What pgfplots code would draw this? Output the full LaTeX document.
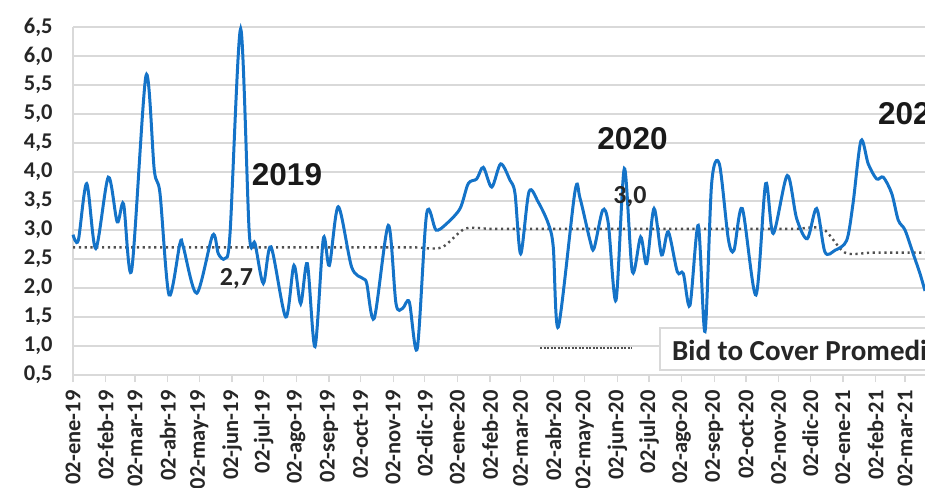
\documentclass[border=0pt]{standalone}
\usepackage{pgfplots}
\pgfplotsset{compat=1.18}
\usepackage{fontspec}
\setmainfont{Carlito}
\newfontfamily\arialfont{Liberation Sans}
\definecolor{bline}{RGB}{20,115,200}
\definecolor{avgc}{RGB}{80,80,80}
\definecolor{gridc}{RGB}{217,217,217}
\begin{document}
\begin{tikzpicture}
\begin{axis}[
  at={(73pt,-375pt)}, anchor=south west,
  scale only axis, width=852pt, height=348pt,
  xmin=0, xmax=809, ymin=0.5, ymax=6.5,
  clip=false,
  axis x line*=bottom, axis y line*=left,
  axis line style={draw=gridc, line width=1.5pt},
  ymajorgrids, grid style={draw=gridc, line width=1.6pt},
  ytick={0.5,1,1.5,2,2.5,3,3.5,4,4.5,5,5.5,6,6.5},
  xtick={0,31,59,90,120,151,181,212,243,273,304,334,365,396,425,456,486,517,547,578,609,639,670,700,731,762,790},
  xticklabels={02-ene-19,02-feb-19,02-mar-19,02-abr-19,02-may-19,02-jun-19,02-jul-19,02-ago-19,02-sep-19,02-oct-19,02-nov-19,02-dic-19,02-ene-20,02-feb-20,02-mar-20,02-abr-20,02-may-20,02-jun-20,02-jul-20,02-ago-20,02-sep-20,02-oct-20,02-nov-20,02-dic-20,02-ene-21,02-feb-21,02-mar-21},
  /pgf/number format/assume math mode=true,
  yticklabel={\pgfmathprintnumber[fixed,fixed zerofill,precision=1,use comma]{\tick}},
  tick label style={font=\bfseries\fontsize{22.5}{24}\selectfont, text=black!85},
  xticklabel style={rotate=90, anchor=east},
  xticklabel shift=5pt,
  yticklabel style={xshift=-10pt},
  tick align=outside,
  xtick style={draw=gridc, line width=1.3pt},
  ytick style={draw=none},
  major tick length=7pt,
]
\fill[white] (axis cs:557.3,1.31) rectangle (axis cs:840,0.586);
\draw[gridc, line width=1.2pt] (axis cs:557.3,1.31) rectangle (axis cs:840,0.586);
\addplot[avgc, line width=2.4pt, dash pattern=on 2.2pt off 3.6pt, smooth] coordinates {
(0,2.70)(25,2.70)(50,2.70)(75,2.70)(100,2.70)(125,2.70)(150,2.70)(175,2.70)(200,2.70)(225,2.70)(250,2.70)(275,2.70)(300,2.70)(325,2.70)(350,2.70)
(372,3.02)(396,3.02)(420,3.02)(444,3.02)(468,3.02)(492,3.02)(516,3.02)(540,3.02)(564,3.02)(588,3.02)(612,3.02)(636,3.02)(660,3.02)(686,3.02)(712,3.02)
(733,2.61)(758,2.61)(783,2.61)(809,2.61)};
\addplot[bline, line width=3pt, smooth] coordinates {
(0,2.92)(5,2.82)(13,3.80)(21.6,2.68)(33.5,3.91)(42,3.14)(48,3.45)(55.7,2.31)(69.3,5.66)(77.2,4.03)(82.6,3.63)(91.2,1.88)(101.6,2.77)(104.7,2.71)(117.5,1.91)(132.6,2.91)(138,2.59)(144.3,2.51)(149.1,2.94)(159.2,6.47)(167.4,2.94)(172.8,2.77)(180.7,2.08)(188,2.71)(202,1.50)(209.8,2.39)(216.2,1.73)(222.5,2.42)(229.8,0.99)(237.7,2.85)(243.4,2.39)(251.9,3.40)(264.6,2.36)(275.6,2.16)(278.9,2.08)(286.1,1.48)(299.4,3.08)(306.7,1.73)(313,1.65)(319.3,1.76)(326.9,0.96)(335.8,3.28)(344.7,3.00)(354.8,3.11)(367.5,3.37)(375.3,3.80)(383.3,3.88)(389.6,4.08)(397.6,3.74)(406.1,4.14)(414.9,3.86)(419.7,3.63)(425.1,2.59)(433,3.66)(441.8,3.48)(451.3,3.11)(456,2.71)(460.8,1.33)(476.6,3.66)(481.4,3.55)(490.9,2.82)(494.7,2.68)(502.9,3.34)(508.3,3.11)(515.6,1.79)(523.5,4.06)(531.1,2.28)(539,2.88)(544.7,2.42)(551.7,3.37)(558.9,2.57)(565.2,2.97)(573.8,2.28)(579.5,2.25)(585.8,1.70)(593.7,3.08)(600.1,1.25)(606.4,3.80)(613.7,4.14)(622.2,2.85)(627.6,2.65)(635.5,3.37)(648.5,1.88)(657.7,3.80)(664.9,2.94)(678.2,3.94)(687.1,3.20)(697.2,2.85)(706.1,3.37)(714,2.62)(723.5,2.65)(734.6,2.82)(740.6,3.45)(748.2,4.54)(755.1,4.14)(763.1,3.88)(769.4,3.91)(777.4,3.63)(783.6,3.17)(790,3.00)(797.8,2.59)(804.2,2.25)(809,1.95)};
\end{axis}
\draw[avgc, line width=2pt, dash pattern=on 2.2pt off 1.3pt] (540pt,-347.5pt) -- (632pt,-347.5pt);
\node[anchor=base west, inner sep=0, font=\bfseries\fontsize{29}{30}\selectfont, text=black!85] at (672pt,-360pt) {Bid to Cover Promedio};
\node[inner sep=0, font=\arialfont\bfseries\fontsize{31.5}{33}\selectfont, text=black!90] at (287pt,-175pt) {2019};
\node[inner sep=0, font=\arialfont\bfseries\fontsize{31.5}{33}\selectfont, text=black!90] at (632.5pt,-139pt) {2020};
\node[anchor=west, inner sep=0, font=\arialfont\bfseries\fontsize{31.5}{33}\selectfont, text=black!90] at (878pt,-114pt) {2021};
\node[inner sep=0, font=\bfseries\fontsize{26}{28}\selectfont, text=black!85] at (236.5pt,-279pt) {2,7};
\node[inner sep=0, font=\bfseries\fontsize{26}{28}\selectfont, text=black!85] at (630pt,-197pt) {3,0};
\pgfresetboundingbox
\path[use as bounding box] (0pt,0pt) rectangle (925pt,-487pt);
\end{tikzpicture}
\end{document}
